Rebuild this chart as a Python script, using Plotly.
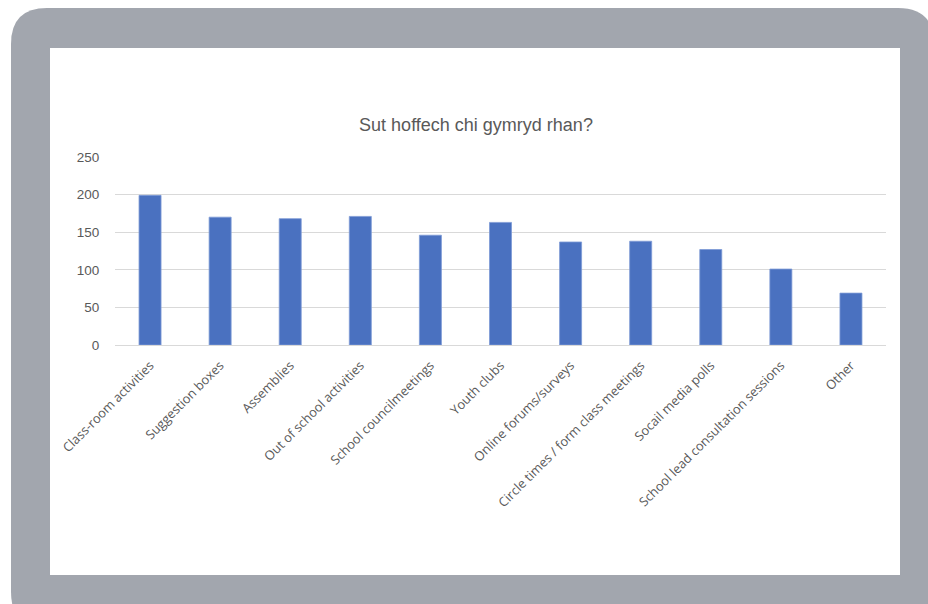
import plotly.graph_objects as go

categories = [
    "Class-room activities", "Suggestion boxes", "Assemblies",
    "Out of school activities", "School councilmeetings", "Youth clubs",
    "Online forums/surveys", "Circle times / form class meetings",
    "Socail media polls", "School lead consultation sessions", "Other",
]
values = [199, 170, 168, 171, 146, 163, 137, 138, 127, 101, 69]
title_text = "Sut hoffech chi gymryd rhan?"
y_ticks = [0, 50, 100, 150, 200, 250]

W, H = 928, 604
ML, MR, MT, MB = 115, 42, 157, 259
PW = W - ML - MR
PH = H - MT - MB


def px(x):
    return (x - ML) / PW


def py(y):
    return (H - MB - y) / PH


def rounded_path(x0, y0, x1, y1, r):
    pts = []
    pts.append(f"M {px(x0 + r)} {py(y0)}")
    pts.append(f"L {px(x1 - r)} {py(y0)}")
    pts.append(f"Q {px(x1)} {py(y0)} {px(x1)} {py(y0 + r)}")
    pts.append(f"L {px(x1)} {py(y1 - r)}")
    pts.append(f"Q {px(x1)} {py(y1)} {px(x1 - r)} {py(y1)}")
    pts.append(f"L {px(x0 + r)} {py(y1)}")
    pts.append(f"Q {px(x0)} {py(y1)} {px(x0)} {py(y1 - r)}")
    pts.append(f"L {px(x0)} {py(y0 + r)}")
    pts.append(f"Q {px(x0)} {py(y0)} {px(x0 + r)} {py(y0)}")
    pts.append("Z")
    return " ".join(pts)


gray = "#a2a6ae"
text_col = "#595959"
font_fam = "Liberation Sans, Arial, sans-serif"

fig = go.Figure()
fig.add_trace(go.Bar(
    x=categories, y=values,
    marker=dict(color="#4a71c0", line=dict(color="#7d9ad6", width=0.8)),
    hoverinfo="x+y",
))

shapes = [
    dict(type="path", xref="paper", yref="paper", layer="below",
         path=rounded_path(11, 8, 934, 628, 36),
         fillcolor=gray, line=dict(width=0)),
    dict(type="rect", xref="paper", yref="paper", layer="below",
         x0=px(50), x1=px(900), y0=py(575), y1=py(48),
         fillcolor="white", line=dict(width=0)),
]

fig.update_layout(
    width=W, height=H,
    margin=dict(l=ML, r=MR, t=MT, b=MB, pad=0),
    paper_bgcolor="white", plot_bgcolor="rgba(0,0,0,0)",
    shapes=shapes,
    showlegend=False,
    bargap=0.686,
    title=dict(text=title_text, x=476 / W, xanchor="center",
               y=1 - 125 / H, yanchor="middle",
               font=dict(family=font_fam, size=18, color=text_col)),
    font=dict(family=font_fam, color=text_col),
)
fig.update_xaxes(
    tickangle=-45, tickfont=dict(size=12.8, color=text_col, family="Open Sans, sans-serif"),
    showgrid=False, showline=True, linecolor="#d9d9d9", linewidth=1,
    ticks="outside", ticklen=7, tickcolor="rgba(0,0,0,0)",
    range=[-0.5, len(categories) - 0.5], fixedrange=True,
)
fig.update_yaxes(
    range=[0, 250], tickvals=y_ticks, showgrid=True, gridcolor="#d9d9d9",
    gridwidth=1, zeroline=False, showline=False,
    tickfont=dict(size=13.5, color=text_col),
    ticks="outside", ticklen=12, tickcolor="rgba(0,0,0,0)", fixedrange=True,
)

fig.write_html(
    "out.html",
    config={"displayModeBar": False},
    post_script="document.body.style.margin='0';document.body.style.overflow='hidden';",
)
